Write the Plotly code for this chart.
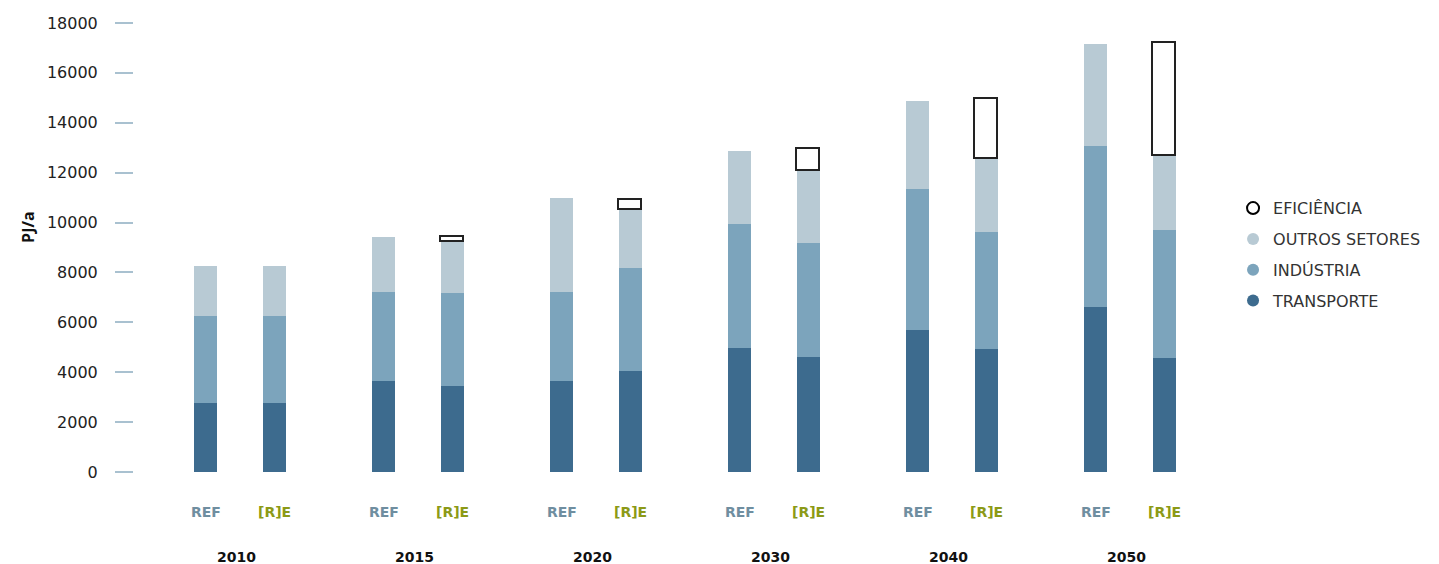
import plotly.graph_objects as go

years = ["2010", "2015", "2020", "2030", "2040", "2050"]
scenarios = ["REF", "[R]E"]

# PJ/a segment values
ref_transporte = [2770, 3650, 3650, 4970, 5690, 6620]
ref_industria = [3480, 3570, 3570, 4970, 5650, 6450]
ref_outros = [2010, 2200, 3770, 2930, 3540, 4090]

re_transporte = [2770, 3450, 4050, 4610, 4930, 4570]
re_industria = [3480, 3730, 4130, 4570, 4690, 5130]
re_outros = [2010, 2060, 2310, 2900, 2930, 2960]
re_eficiencia = [0, 180, 400, 880, 2410, 4540]

y_ticks = [0, 2000, 4000, 6000, 8000, 10000, 12000, 14000, 16000, 18000]

C_TRANS = "#3d6b8e"
C_IND = "#7ca4bc"
C_OUT = "#b8cad4"
C_REF = "#6f8ea0"
C_RE = "#8c9a17"

offset = 0.194
bw = 0.13
n = len(years)
x_ref = [i - offset for i in range(n)]
x_re = [i + offset for i in range(n)]
xs = x_ref + x_re

fig = go.Figure()

def bar(vals, color, name, line=None):
    fig.add_trace(go.Bar(
        x=xs, y=vals, width=bw, name=name, showlegend=False,
        marker=dict(color=color, line=line or dict(width=0)),
        hoverinfo="y+name"))

bar(ref_transporte + re_transporte, C_TRANS, "TRANSPORTE")
bar(ref_industria + re_industria, C_IND, "INDÚSTRIA")
bar(ref_outros + re_outros, C_OUT, "OUTROS SETORES")
eff = [None] * n + [v if v > 0 else None for v in re_eficiencia]
bar(eff, "white", "EFICIÊNCIA", line=dict(color="#222222", width=1.6))

# legend entries (circles)
for name, col, lc in [("EFICIÊNCIA", "white", "#000000"),
                      ("OUTROS SETORES", C_OUT, C_OUT),
                      ("INDÚSTRIA", C_IND, C_IND),
                      ("TRANSPORTE", C_TRANS, C_TRANS)]:
    fig.add_trace(go.Scatter(
        x=[None], y=[None], mode="markers", name=name, legendgroup=name,
        marker=dict(symbol="circle", size=18, color=col,
                    line=dict(color=lc, width=2.5 if name == "EFICIÊNCIA" else 0))))

LBL_FONT = "DejaVu Sans"
annotations = []
for i, yr in enumerate(years):
    annotations.append(dict(x=x_ref[i], y=-0.089, xref="x", yref="paper",
                            yanchor="middle", text="<b>REF</b>", showarrow=False,
                            font=dict(family=LBL_FONT, size=14, color=C_REF)))
    annotations.append(dict(x=x_re[i], y=-0.089, xref="x", yref="paper",
                            yanchor="middle", text="<b>[R]E</b>", showarrow=False,
                            font=dict(family=LBL_FONT, size=14, color=C_RE)))
    annotations.append(dict(x=i - 0.02, y=-0.189, xref="x", yref="paper",
                            yanchor="middle", text="<b>" + yr + "</b>", showarrow=False,
                            font=dict(family=LBL_FONT, size=14, color="#111111")))
annotations.append(dict(x=-0.0994, y=0.546, xref="paper", yref="paper",
                        xanchor="center", yanchor="middle",
                        text="<b>PJ/a</b>", textangle=-90, showarrow=False,
                        font=dict(family="Open Sans", size=16, color="#111111")))

fig.update_layout(
    width=1431, height=556,
    margin=dict(l=126, r=239, t=15, b=92),
    paper_bgcolor="white", plot_bgcolor="white",
    barmode="stack", bargap=0,
    xaxis=dict(range=[-0.596, 5.393], showticklabels=False, showgrid=False,
               zeroline=False, showline=False, ticks="", automargin=False),
    yaxis=dict(range=[0, 18000], tickvals=y_ticks,
               ticktext=[str(v) for v in y_ticks],
               ticks="outside", ticklen=18, tickwidth=2, tickcolor="#a9c1d0",
               ticklabelstandoff=14, automargin=False,
               showgrid=False, zeroline=False, showline=False,
               tickfont=dict(family="DejaVu Sans", size=16, color="#222222")),
    legend=dict(x=1.031, y=0.484, xanchor="left", yanchor="middle",
                traceorder="grouped",
                font=dict(family="DejaVu Sans", size=16, color="#333333"),
                itemsizing="constant", tracegroupgap=7),
    annotations=annotations,
    font=dict(family="DejaVu Sans"),
)

fig.write_html("out.html")
